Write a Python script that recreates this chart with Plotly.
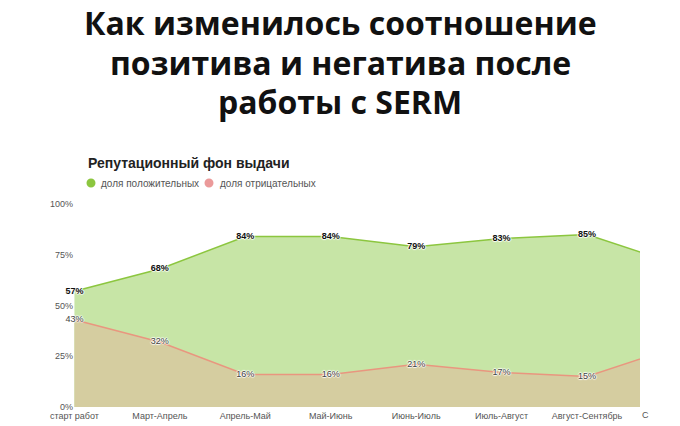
import plotly.graph_objects as go

categories = ["старт работ", "Март-Апрель", "Апрель-Май", "Май-Июнь", "Июнь-Июль",
              "Июль-Август", "Август-Сентябрь", "Сентябрь-Октябрь"]
positive = [57, 68, 84, 84, 79, 83, 85, 71]
negative = [43, 32, 16, 16, 21, 17, 15, 29]
y_ticks = [0, 25, 50, 75, 100]

title_lines = ["Как изменилось соотношение", "позитива и негатива после", "работы с SERM"]
subtitle = "Репутационный фон выдачи"
legend_names = ["доля положительных", "доля отрицательных"]

GREEN_LINE = "#8cc63f"
GREEN_FILL = "#c7e5a6"
RED_LINE = "#e9967f"
TAN_FILL = "#d5cda0"

xs = list(range(len(categories)))
visible = len(categories) - 1  # last point lies beyond the cropped edge
pos_text = [f"{v}%" if i < visible else "" for i, v in enumerate(positive)]
neg_text = [f"{v}%" if i < visible else "" for i, v in enumerate(negative)]

halo = "1px 0px 1px white, -1px 0px 1px white, 0px 1px 1px white, 0px -1px 1px white"

fig = go.Figure()
fig.add_trace(go.Scatter(x=xs, y=positive, mode="lines", fill="tozeroy",
                         fillcolor=GREEN_FILL, line=dict(color=GREEN_LINE, width=1.5),
                         showlegend=False, hoverinfo="skip"))
fig.add_trace(go.Scatter(x=xs, y=negative, mode="lines", fill="tozeroy",
                         fillcolor=TAN_FILL, line=dict(color=RED_LINE, width=1.5),
                         showlegend=False, hoverinfo="skip"))
fig.add_trace(go.Scatter(x=xs, y=positive, mode="text", text=pos_text,
                         textposition="middle center", cliponaxis=False,
                         textfont=dict(family="Liberation Sans", size=9, color="#111",
                                       weight="bold", shadow=halo),
                         showlegend=False, hoverinfo="skip"))
fig.add_trace(go.Scatter(x=xs, y=negative, mode="text", text=neg_text,
                         textposition="middle center", cliponaxis=False,
                         textfont=dict(family="Liberation Sans", size=9, color="#444",
                                       shadow=halo),
                         showlegend=False, hoverinfo="skip"))

L, R, T, B = 74, 40, 204, 19
W, H = 680, 426
pw, ph = W - L - R, H - T - B

def px_to_paper_y(py):
    return (H - B - py) / ph

def px_to_paper_x(px):
    return (px - L) / pw

annotations = []
title_centers = [22, 62, 102]
for line, cy in zip(title_lines, title_centers):
    annotations.append(dict(text=f"<b>{line}</b>", xref="paper", yref="paper",
                            x=px_to_paper_x(340), y=px_to_paper_y(cy),
                            xanchor="center", yanchor="middle", showarrow=False,
                            font=dict(family="Open Sans", size=32, color="#111")))
annotations.append(dict(text=f"<b>{subtitle}</b>", xref="paper", yref="paper",
                        x=px_to_paper_x(86), y=px_to_paper_y(163),
                        xanchor="left", yanchor="middle", showarrow=False,
                        font=dict(family="Liberation Sans", size=14, color="#222")))
legend_x = [99, 218]
for name, lx in zip(legend_names, legend_x):
    annotations.append(dict(text=name, xref="paper", yref="paper",
                            x=px_to_paper_x(lx), y=px_to_paper_y(183),
                            xanchor="left", yanchor="middle", showarrow=False,
                            font=dict(family="Liberation Sans", size=10, color="#555")))
annotations.append(dict(text="С", xref="paper", yref="paper",
                        x=px_to_paper_x(640), y=px_to_paper_y(415),
                        xanchor="left", yanchor="middle", showarrow=False,
                        font=dict(family="Liberation Sans", size=9, color="#555")))

shapes = []
for col, cx in zip([GREEN_LINE, "#eb9a9a"], [91, 209]):
    shapes.append(dict(type="circle", xref="paper", yref="paper",
                       xsizemode="pixel", ysizemode="pixel",
                       xanchor=px_to_paper_x(cx), yanchor=px_to_paper_y(183),
                       x0=-4.5, x1=4.5, y0=-4.5, y1=4.5,
                       fillcolor=col, line=dict(width=0)))

fig.update_layout(
    width=W, height=H,
    margin=dict(l=L, r=R, t=T, b=B, autoexpand=False),
    paper_bgcolor="white", plot_bgcolor="white",
    annotations=annotations, shapes=shapes,
    xaxis=dict(range=[-0.005, 6.62], tickvals=xs, ticktext=categories,
               showgrid=False, zeroline=False, showline=False, ticks="",
               automargin=False, ticklabelstandoff=2,
               tickfont=dict(family="Liberation Sans", size=9, color="#555"),
               fixedrange=True),
    yaxis=dict(range=[0, 100], tickvals=y_ticks, ticktext=[f"{v}%" for v in y_ticks],
               showgrid=False, zeroline=False, showline=False, ticks="",
               ticklabelstandoff=0, automargin=False,
               tickfont=dict(family="Liberation Sans", size=9, color="#555"),
               fixedrange=True),
    showlegend=False,
)

fig.write_html("out.html", config={"displayModeBar": False})
